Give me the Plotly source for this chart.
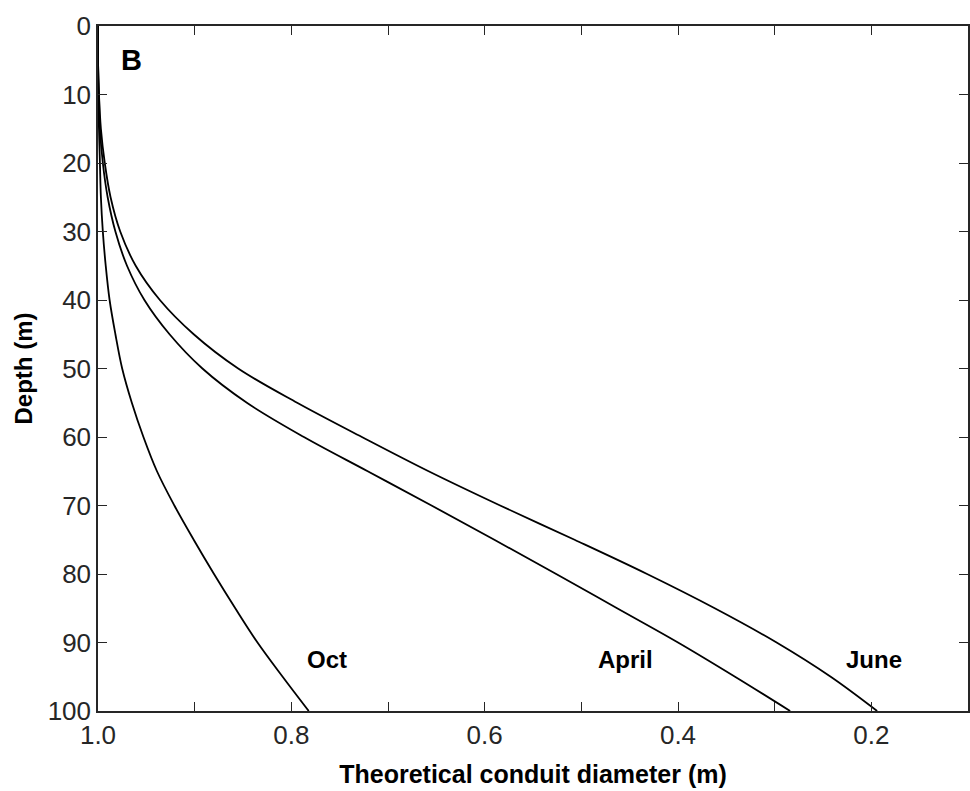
import plotly.graph_objects as go

depth = [0, 5, 10, 15, 20, 25, 30, 35, 40, 45, 50, 55, 60, 65, 70, 75, 80, 85, 90, 95, 100]

june = [1.0, 1.0, 0.999, 0.997, 0.993, 0.987, 0.977, 0.961, 0.936, 0.901, 0.855,
        0.794, 0.727, 0.658, 0.584, 0.507, 0.432, 0.362, 0.298, 0.242, 0.194]
april = [1.0, 1.0, 0.999, 0.998, 0.995, 0.990, 0.982, 0.970, 0.952, 0.926, 0.892,
         0.846, 0.787, 0.721, 0.655, 0.590, 0.526, 0.463, 0.400, 0.341, 0.284]
octo = [1.0, 1.0, 1.0, 0.999, 0.998, 0.997, 0.995, 0.992, 0.988, 0.982, 0.975,
        0.965, 0.953, 0.939, 0.921, 0.901, 0.880, 0.858, 0.835, 0.809, 0.782]

series_names = ["Oct", "April", "June"]
series_values = [octo, april, june]

# label anchor points (diameter, depth)
label_x = [0.7635, 0.454, 0.197]
label_y = [92.5, 92.5, 92.5]

x_tickvals = [1.0, 0.9, 0.8, 0.7, 0.6, 0.5, 0.4, 0.3, 0.2]
x_ticktext = ["1.0", "", "0.8", "", "0.6", "", "0.4", "", "0.2"]
y_tickvals = [0, 10, 20, 30, 40, 50, 60, 70, 80, 90, 100]

fig = go.Figure()
for name, vals in zip(series_names, series_values):
    fig.add_trace(go.Scatter(x=vals, y=depth, mode="lines", name=name,
                             line=dict(color="black", width=1.8, shape="spline"),
                             showlegend=False))

for name, lx, ly in zip(series_names, label_x, label_y):
    fig.add_annotation(x=lx, y=ly, text="<b>%s</b>" % name, showarrow=False,
                       font=dict(family="Liberation Sans", size=24, color="black"),
                       xanchor="center", yanchor="middle")

fig.add_annotation(x=0.965, y=4.9, text="<b>B</b>", showarrow=False,
                   font=dict(family="Liberation Sans", size=29, color="black"),
                   xanchor="center", yanchor="middle")

axis_common = dict(showline=True, mirror="ticks", linecolor="#262626", linewidth=1.5,
                   ticks="inside", ticklen=9, tickwidth=1.3, tickcolor="#262626",
                   showgrid=False, zeroline=False, automargin=False,
                   tickfont=dict(family="Liberation Sans", size=26, color="#262626"))

fig.update_xaxes(range=[1.0, 0.1], tickmode="array", tickvals=x_tickvals, ticktext=x_ticktext,
                 title=dict(text="<b>Theoretical conduit diameter (m)</b>",
                            font=dict(family="Liberation Sans", size=25, color="black"),
                            standoff=17),
                 ticklabelstandoff=0,
                 **axis_common)
fig.update_yaxes(range=[100, 0], tickmode="array", tickvals=y_tickvals,
                 title=dict(text="<b>Depth (m)</b>",
                            font=dict(family="Liberation Sans", size=24, color="black"),
                            standoff=8),
                 ticklabelstandoff=0,
                 **axis_common)

fig.update_layout(width=970, height=791, margin=dict(l=98, r=2, t=26, b=80),
                  paper_bgcolor="white", plot_bgcolor="white")

fig.write_html("out.html", config={"displayModeBar": False},
               post_script="document.body.style.margin='0';")
